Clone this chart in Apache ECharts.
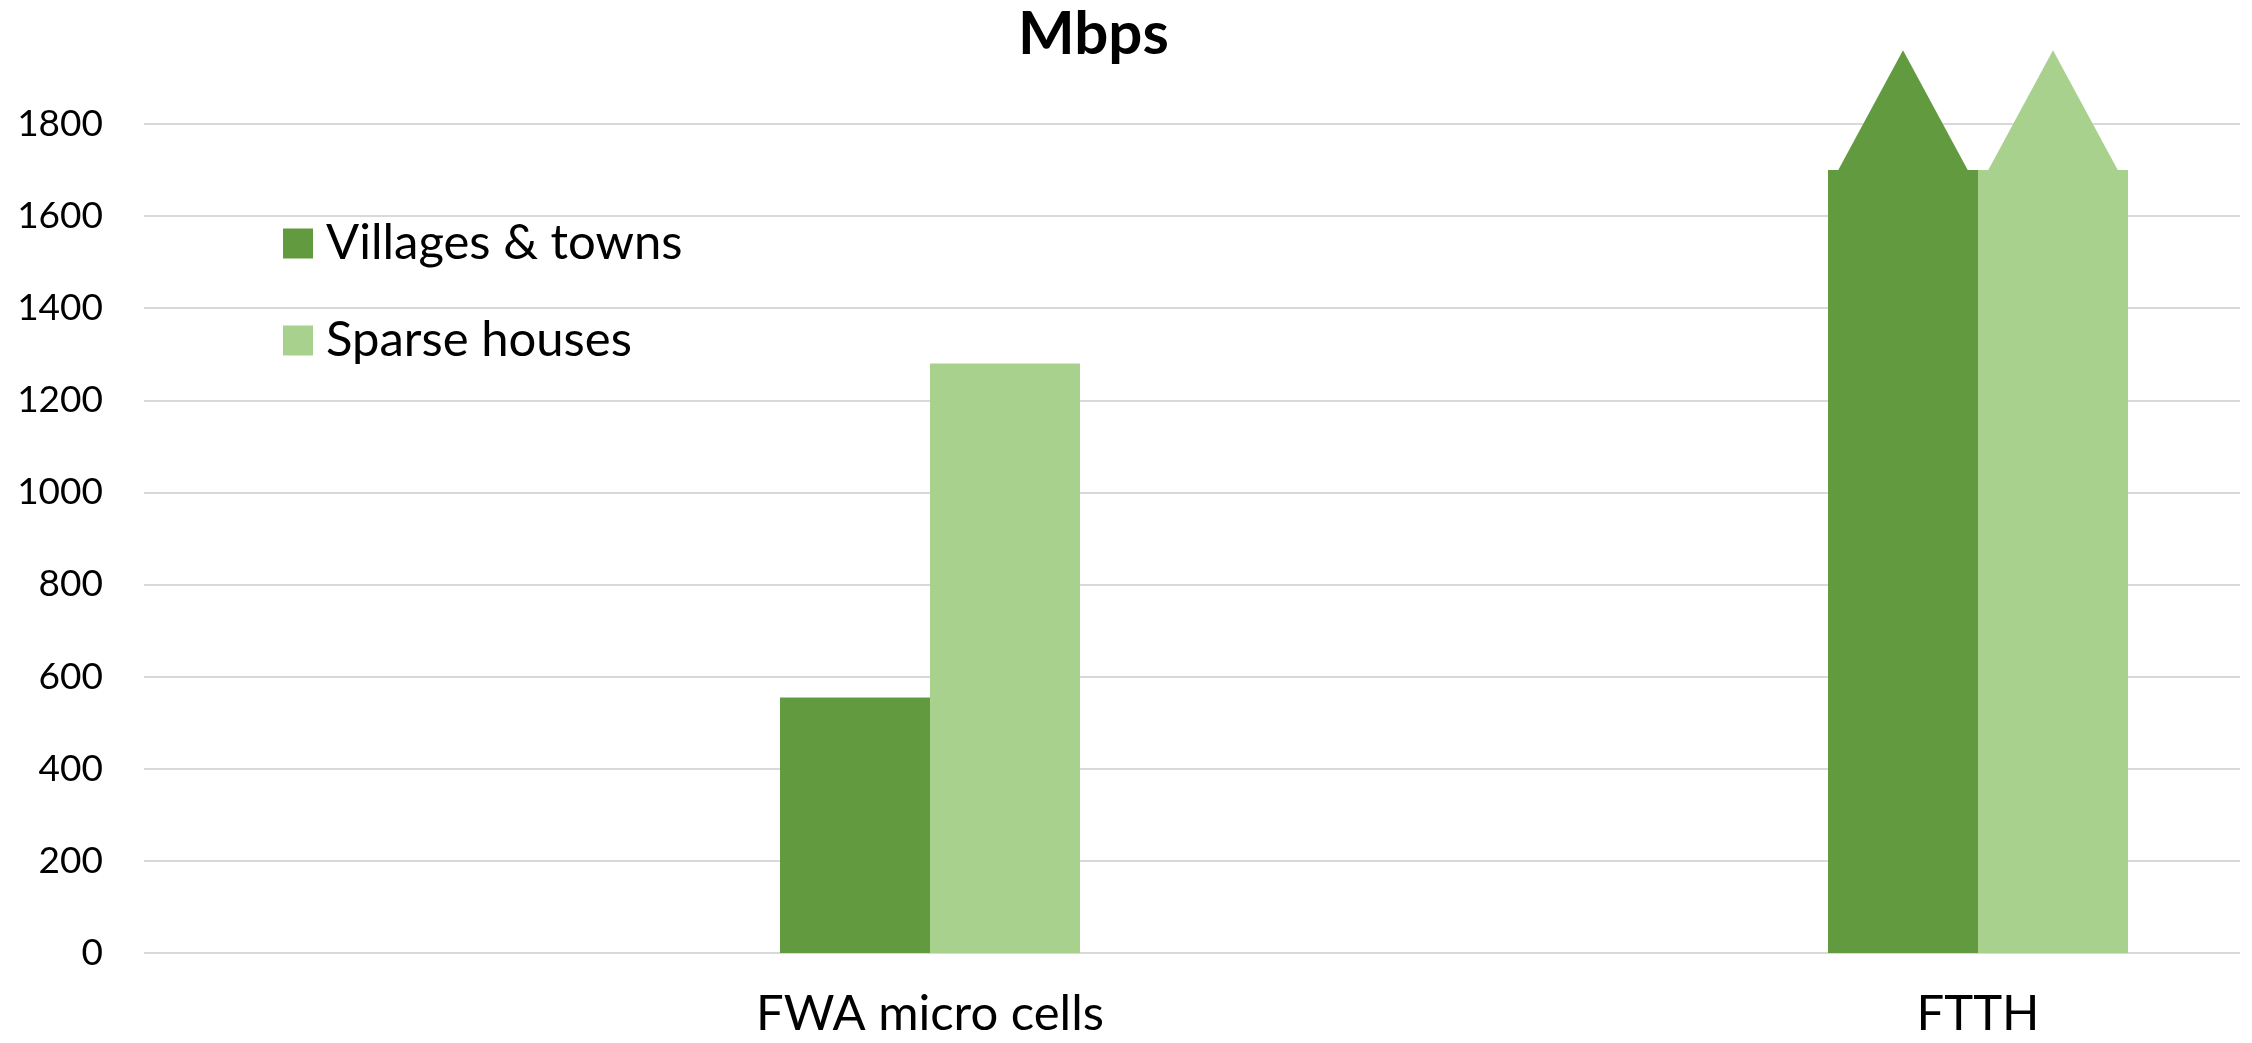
<!DOCTYPE html>
<html>
<head>
<meta charset="utf-8">
<title>Mbps</title>
<script src="https://cdn.jsdelivr.net/npm/echarts@6/dist/echarts.min.js"></script>
<style>
  html, body { margin: 0; padding: 0; background: #ffffff; }
  #chart { width: 2252px; height: 1043px; }
</style>
</head>
<body>
<div id="chart"></div>
<script>
// Categories on the x axis (blank slots keep the spacing between the two groups)
const categories = ['', 'FWA micro cells', '', 'FTTH'];

// Throughput in Mbps per deployment area
const villagesTowns = [null, 555, null, 1700];
const sparseHouses = [null, 1280, null, 1700];

// FTTH exceeds the axis: an arrow head rises from the bar top to this value
const ftthArrowTip = [1960, 1960];
const ftthIndex = 3;

const yTicks = { min: 0, max: 1800, interval: 200 };

const DARK = '#629b3f';
const LIGHT = '#a9d18e';
const FONT = 'Lato';
const BAR_W = 150;

const chart = echarts.init(document.getElementById('chart'));

chart.setOption({
  animation: false,
  backgroundColor: '#ffffff',
  title: {
    text: 'Mbps',
    left: 1013,
    top: 0,
    textStyle: { fontFamily: FONT, fontWeight: 'bold', fontSize: 60, color: '#000' }
  },
  legend: {
    orient: 'vertical',
    left: 278,
    top: 214,
    itemWidth: 30,
    itemHeight: 30,
    itemGap: 48,
    icon: 'rect',
    data: ['Villages & towns', 'Sparse houses'],
    textStyle: { fontFamily: FONT, fontSize: 49, color: '#000', padding: [0, 0, 0, 8] }
  },
  grid: { left: 144, right: 12, top: 124, bottom: 90, containLabel: false },
  xAxis: {
    type: 'category',
    data: categories,
    axisLine: { show: false },
    axisTick: { show: false },
    axisLabel: { fontFamily: FONT, fontSize: 49, color: '#000', margin: 37, interval: 0 }
  },
  yAxis: {
    type: 'value',
    min: yTicks.min,
    max: yTicks.max,
    interval: yTicks.interval,
    axisLine: { show: false },
    axisTick: { show: false },
    axisLabel: {
      fontFamily: FONT, fontSize: 37, color: '#000', margin: 41,
      formatter: v => String(v)
    },
    splitLine: { lineStyle: { color: '#d9d9d9', width: 2 } }
  },
  series: [
    {
      name: 'Villages & towns',
      type: 'bar',
      data: villagesTowns,
      barWidth: BAR_W,
      barGap: '0%',
      itemStyle: { color: DARK }
    },
    {
      name: 'Sparse houses',
      type: 'bar',
      data: sparseHouses,
      barWidth: BAR_W,
      barGap: '0%',
      itemStyle: { color: LIGHT }
    },
    {
      // Arrow heads on top of the FTTH bars
      type: 'custom',
      clip: false,
      silent: true,
      data: ftthArrowTip.map((tip, i) => [ftthIndex, [villagesTowns, sparseHouses][i][ftthIndex], tip, i]),
      renderItem: function (params, api) {
        const base = api.coord([api.value(0), api.value(1)]);
        const tip = api.coord([api.value(0), api.value(2)]);
        const side = api.value(3);
        const cx = base[0] + (side === 0 ? -BAR_W / 2 : BAR_W / 2);
        const half = 65;
        return {
          type: 'polygon',
          shape: { points: [[cx - half, base[1] + 0.5], [cx, tip[1]], [cx + half, base[1] + 0.5]] },
          style: { fill: side === 0 ? DARK : LIGHT }
        };
      }
    }
  ]
});
</script>
</body>
</html>
